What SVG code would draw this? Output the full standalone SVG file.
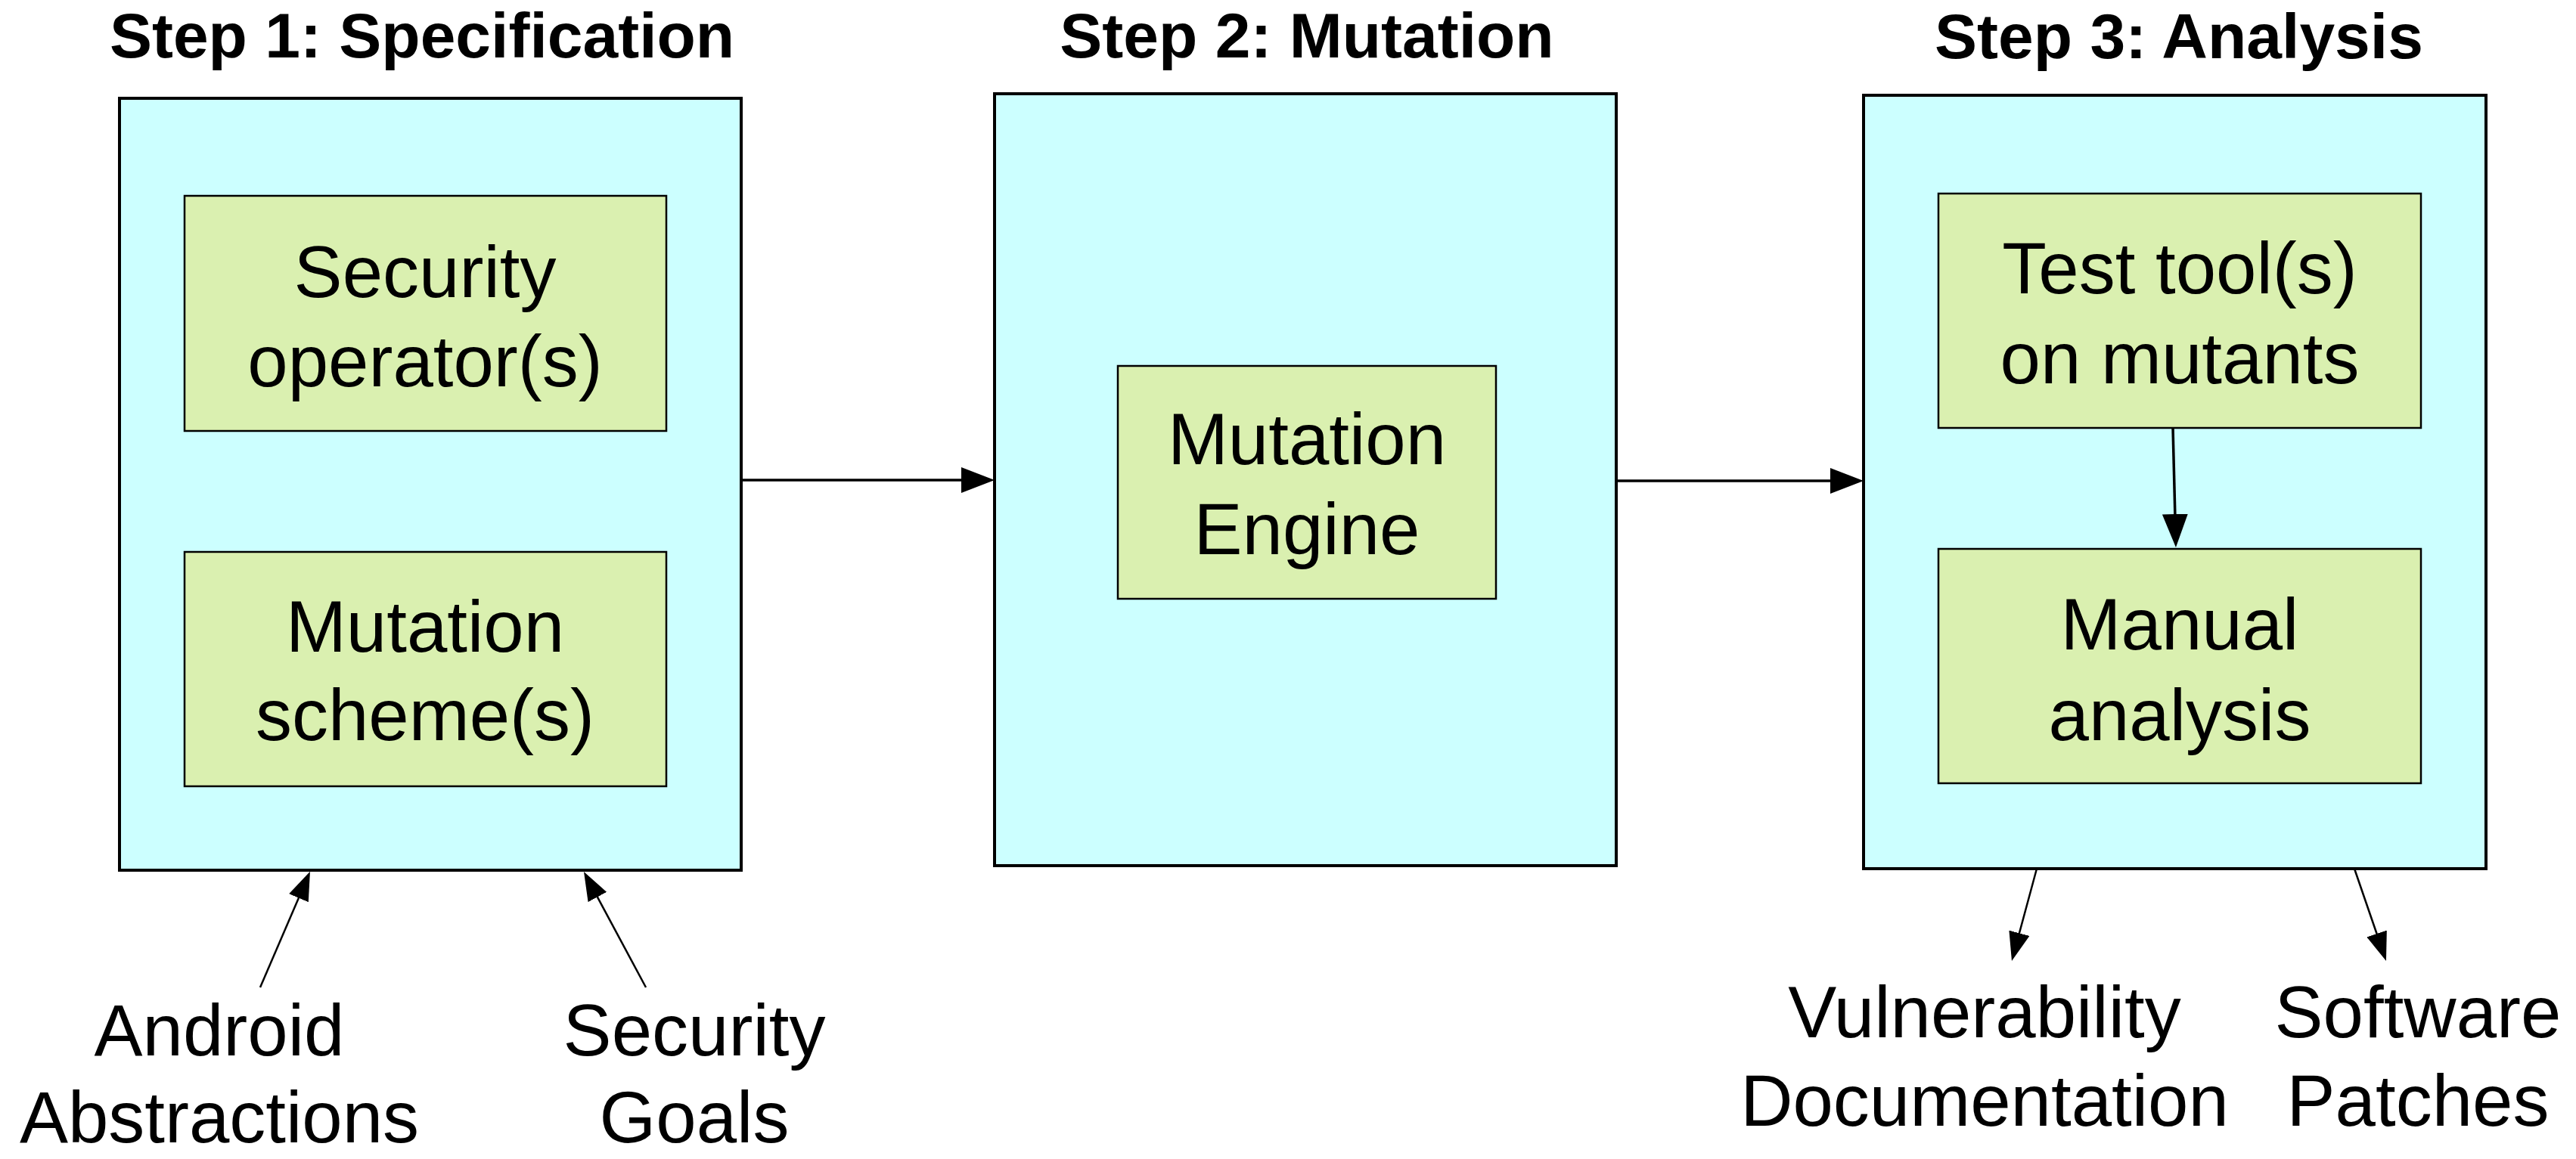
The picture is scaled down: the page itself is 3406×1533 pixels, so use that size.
<svg xmlns="http://www.w3.org/2000/svg" width="3406" height="1533" viewBox="0 0 3406 1533">
  <style>
    .stage { fill: #CCFFFF; stroke: #000; stroke-width: 4; }
    .task { fill: #DAF0B0; stroke: #000; stroke-width: 2.5; }
    .title { font-family: "Liberation Sans", Arial, Helvetica, sans-serif; font-weight: bold; font-size: 84px; text-anchor: middle; fill: #000; }
    .label { font-family: "Liberation Sans", Arial, Helvetica, sans-serif; font-size: 96px; text-anchor: middle; fill: #000; }
    .flow { fill: none; stroke: #000; stroke-width: 3.5; }
    .feed { fill: none; stroke: #000; stroke-width: 2.5; }
  </style>
  <defs>
    <marker id="head" markerUnits="userSpaceOnUse" viewBox="0 0 44 34" markerWidth="44" markerHeight="34" refX="34" refY="17" orient="auto">
      <path d="M0,0 L44,17 L0,34 z" fill="#000"/>
    </marker>
    <marker id="head-sm" markerUnits="userSpaceOnUse" viewBox="0 0 38 28" markerWidth="38" markerHeight="28" refX="28" refY="14" orient="auto">
      <path d="M0,0 L38,14 L0,28 z" fill="#000"/>
    </marker>
  </defs>

  <!-- Step titles -->
  <text class="title" x="558" y="76">Step 1: Specification</text>
  <text class="title" x="1728" y="76">Step 2: Mutation</text>
  <text class="title" x="2881" y="77">Step 3: Analysis</text>

  <!-- Step 1 -->
  <g id="step1">
    <rect class="stage" x="158" y="130" width="822" height="1021"/>
  </g>
  <g id="security-operators">
    <rect class="task" x="244" y="259" width="637" height="311"/>
    <text class="label" x="562" y="393">Security</text>
    <text class="label" x="562" y="511">operator(s)</text>
  </g>
  <g id="mutation-schemes">
    <rect class="task" x="244" y="730" width="637" height="310"/>
    <text class="label" x="562" y="862">Mutation</text>
    <text class="label" x="562" y="979">scheme(s)</text>
  </g>
  <g id="android-abstractions">
    <text class="label" x="290" y="1396">Android</text>
    <text class="label" x="290" y="1511">Abstractions</text>
  </g>
  <g id="security-goals">
    <text class="label" x="918" y="1396">Security</text>
    <text class="label" x="918" y="1511">Goals</text>
  </g>

  <!-- Step 2 -->
  <g id="step2">
    <rect class="stage" x="1315" y="124" width="822" height="1021"/>
  </g>
  <g id="mutation-engine">
    <rect class="task" x="1478" y="484" width="500" height="308"/>
    <text class="label" x="1728" y="614">Mutation</text>
    <text class="label" x="1728" y="733">Engine</text>
  </g>

  <!-- Step 3 -->
  <g id="step3">
    <rect class="stage" x="2464" y="126" width="823" height="1023"/>
  </g>
  <g id="test-tools">
    <rect class="task" x="2563" y="256" width="638" height="310"/>
    <text class="label" x="2882" y="388">Test tool(s)</text>
    <text class="label" x="2882" y="507">on mutants</text>
  </g>
  <g id="manual-analysis">
    <rect class="task" x="2563" y="726" width="638" height="310"/>
    <text class="label" x="2882" y="859">Manual</text>
    <text class="label" x="2882" y="979">analysis</text>
  </g>
  <g id="vulnerability-documentation">
    <text class="label" x="2624" y="1372">Vulnerability</text>
    <text class="label" x="2624" y="1489">Documentation</text>
  </g>
  <g id="software-patches">
    <text class="label" x="3197" y="1372">Software</text>
    <text class="label" x="3197" y="1489">Patches</text>
  </g>

  <!-- Connectors -->
  <g id="connectors">
    <line class="flow" x1="980" y1="635" x2="1305" y2="635" marker-end="url(#head)"/>
    <line class="flow" x1="2137" y1="636" x2="2454" y2="636" marker-end="url(#head)"/>
    <line class="flow" x1="2873" y1="566" x2="2876.7" y2="714" marker-end="url(#head)"/>
    <line class="feed" x1="344" y1="1306" x2="406" y2="1162" marker-end="url(#head-sm)"/>
    <line class="feed" x1="854" y1="1306" x2="776.7" y2="1161.8" marker-end="url(#head-sm)"/>
    <line class="feed" x1="2693" y1="1149" x2="2662.6" y2="1261.3" marker-end="url(#head-sm)"/>
    <line class="feed" x1="3113" y1="1149" x2="3151.7" y2="1261.5" marker-end="url(#head-sm)"/>
  </g>
</svg>
